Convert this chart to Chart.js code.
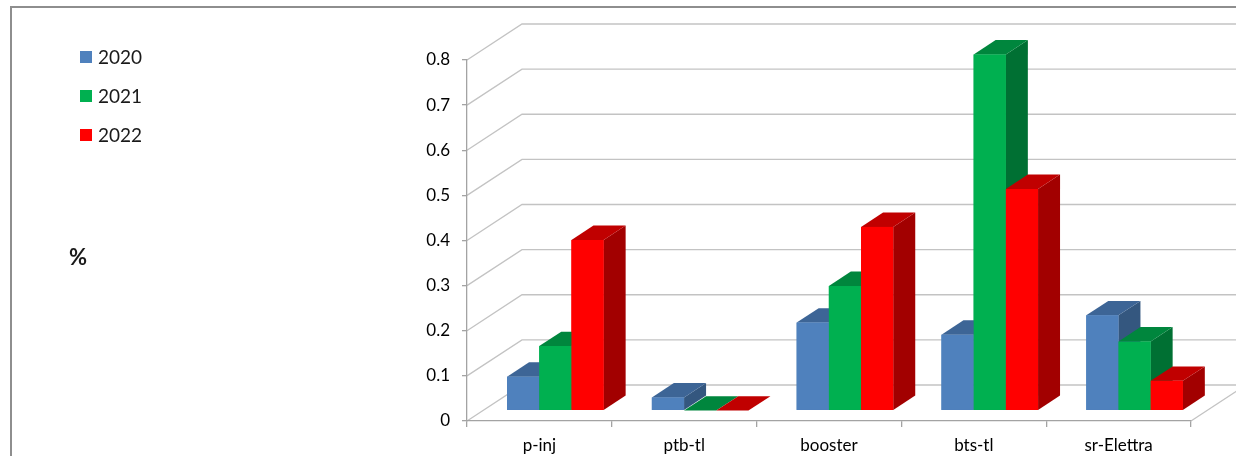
<!DOCTYPE html>
<html>
<head>
<meta charset="utf-8">
<title>Percentuali per sezione</title>
<script src="https://cdn.jsdelivr.net/npm/chart.js@4.4.0/dist/chart.umd.min.js"></script>
<style>
  html, body { margin: 0; padding: 0; background: #ffffff; overflow: hidden; }
  canvas { display: block; }
</style>
</head>
<body>
<canvas id="chart" width="1236" height="456"></canvas>
<script>
// ---- data ----
const categories = ['p-inj', 'ptb-tl', 'booster', 'bts-tl', 'sr-Elettra'];
const seriesNames = ['2020', '2021', '2022'];
const values2020 = [0.075, 0.029, 0.195, 0.168, 0.211];
const values2021 = [0.143, 0, 0.276, 0.789, 0.153];
const values2022 = [0.378, 0, 0.407, 0.491, 0.066];
const yTickValues = [0, 0.1, 0.2, 0.3, 0.4, 0.5, 0.6, 0.7, 0.8];
const unitLabel = '%';

// ---- look ----
const FONT = 'Lato, "Open Sans", "Liberation Sans", sans-serif';
const faces = [
  { front: '#4F81BD', top: '#3D6596', side: '#34577F' },
  { front: '#00B050', top: '#00863D', side: '#007033' },
  { front: '#FF0000', top: '#C00000', side: '#A20000' }
];
// oblique projection: full floor depth, and where the bar row sits within it
const WALL = { dx: 55, dy: -36 };
const ROW_FRONT = 0.29;
const ROW_DEPTH = 0.40;
const GRID_COLOR = '#C3C3C3';
const AXIS_COLOR = '#A3A3A3';

function poly(ctx, pts) {
  ctx.beginPath();
  ctx.moveTo(pts[0][0], pts[0][1]);
  for (let i = 1; i < pts.length; i++) ctx.lineTo(pts[i][0], pts[i][1]);
  ctx.closePath();
  ctx.fill();
}

const box3d = {
  id: 'box3d',
  beforeDraw(chart) {
    const ctx = chart.ctx;
    const ca = chart.chartArea;
    const ys = chart.scales.y;
    ctx.save();
    // outer frame
    ctx.strokeStyle = '#8E8E8E';
    ctx.lineWidth = 2;
    ctx.beginPath();
    ctx.moveTo(11, 470);
    ctx.lineTo(11, 7);
    ctx.lineTo(1250, 7);
    ctx.stroke();
    // side wall and back wall gridlines
    ctx.strokeStyle = GRID_COLOR;
    ctx.lineWidth = 1.3;
    for (const v of yTickValues) {
      const py = ys.getPixelForValue(v);
      ctx.beginPath();
      ctx.moveTo(ca.left, py);
      ctx.lineTo(ca.left + WALL.dx, py + WALL.dy);
      ctx.lineTo(ca.right + WALL.dx, py + WALL.dy);
      ctx.stroke();
    }
    // right edge of the floor
    ctx.beginPath();
    ctx.moveTo(ca.right, ca.bottom);
    ctx.lineTo(ca.right + WALL.dx, ca.bottom + WALL.dy);
    ctx.stroke();
    ctx.restore();
  },
  beforeDatasetsDraw(chart) {
    chart.ctx.save();
    chart.ctx.translate(WALL.dx * ROW_FRONT, WALL.dy * ROW_FRONT);
  },
  afterDatasetsDraw(chart) {
    const ctx = chart.ctx;
    ctx.restore();
    const ox = WALL.dx * ROW_FRONT, oy = WALL.dy * ROW_FRONT;
    const bx = WALL.dx * ROW_DEPTH, by = WALL.dy * ROW_DEPTH;
    ctx.save();
    const n = chart.data.labels.length;
    for (let i = 0; i < n; i++) {
      chart.data.datasets.forEach((ds, d) => {
        const el = chart.getDatasetMeta(d).data[i];
        if (!el) return;
        const p = el.getProps(['x', 'y', 'base', 'width'], true);
        const l = p.x - p.width / 2 + ox;
        const r = p.x + p.width / 2 + ox;
        const t = p.y + oy;
        const b = p.base + oy;
        const c = faces[d];
        ctx.fillStyle = c.side;
        poly(ctx, [[r, t], [r + bx, t + by], [r + bx, b + by], [r, b]]);
        ctx.fillStyle = c.top;
        poly(ctx, [[l, t], [r, t], [r + bx, t + by], [l + bx, t + by]]);
        ctx.fillStyle = c.front;
        ctx.fillRect(l, t, r - l, b - t);
      });
    }
    ctx.restore();
  },
  afterDraw(chart) {
    const ctx = chart.ctx;
    ctx.save();
    // legend
    ctx.font = '19px ' + FONT;
    ctx.textBaseline = 'middle';
    ctx.textAlign = 'left';
    chart.data.datasets.forEach((ds, d) => {
      const cy = 57 + d * 39;
      ctx.fillStyle = faces[d].front;
      ctx.fillRect(80, cy - 6, 12, 12);
      ctx.fillStyle = '#1A1A1A';
      ctx.fillText(ds.label, 98, cy + 1);
    });
    // unit label
    ctx.font = 'bold 22px ' + FONT;
    ctx.textAlign = 'center';
    ctx.fillStyle = '#1A1A1A';
    ctx.fillText(unitLabel, 78, 258);
    ctx.restore();
  }
};

new Chart(document.getElementById('chart'), {
  type: 'bar',
  data: {
    labels: categories,
    datasets: [
      { label: seriesNames[0], data: values2020, backgroundColor: faces[0].front },
      { label: seriesNames[1], data: values2021, backgroundColor: faces[1].front },
      { label: seriesNames[2], data: values2022, backgroundColor: faces[2].front }
    ]
  },
  options: {
    responsive: false,
    animation: false,
    devicePixelRatio: 1,
    events: [],
    datasets: { bar: { categoryPercentage: 0.667, barPercentage: 1.0, clip: false, borderWidth: 0 } },
    layout: { padding: { left: 0, top: 60, right: 45, bottom: 0 } },
    plugins: { legend: { display: false }, tooltip: { enabled: false } },
    scales: {
      x: {
        ticks: { color: '#000000', font: { family: FONT, size: 17 }, padding: 8 },
        grid: { drawOnChartArea: false, drawTicks: true, tickLength: 6, color: AXIS_COLOR, lineWidth: 1.3, offset: true },
        border: { display: true, color: AXIS_COLOR, width: 1.3 },
        afterFit(s) { s.height = 35; }
      },
      y: {
        min: 0,
        max: 0.8,
        ticks: {
          stepSize: 0.1,
          color: '#000000',
          font: { family: FONT, size: 17 },
          padding: 12,
          callback: v => String(Math.round(v * 10) / 10)
        },
        grid: { drawOnChartArea: false, drawTicks: true, tickLength: 5, color: AXIS_COLOR, lineWidth: 1.3 },
        border: { display: true, color: AXIS_COLOR, width: 1.3 },
        afterFit(s) { s.width = 467; }
      }
    }
  },
  plugins: [box3d]
});
</script>
</body>
</html>
